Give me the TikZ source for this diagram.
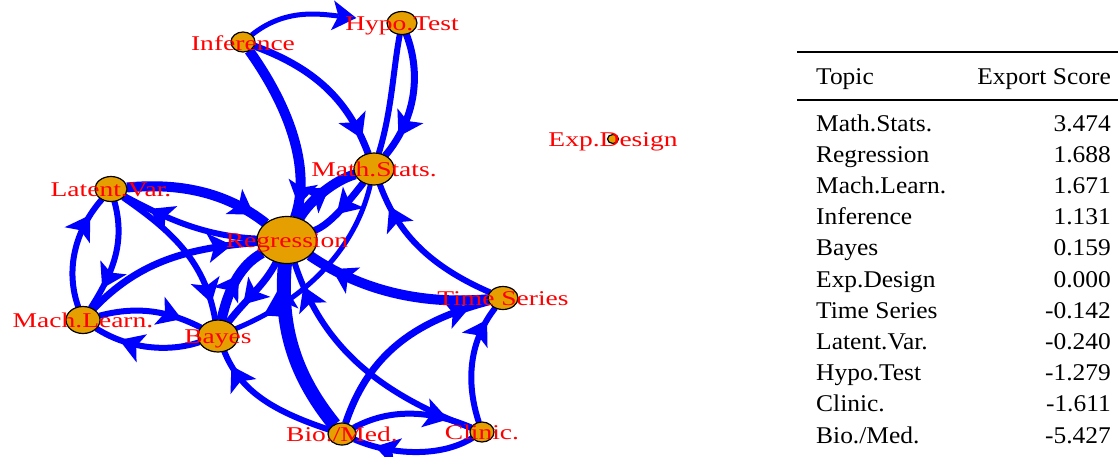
\documentclass[tikz,border=0pt]{standalone}
\usepackage{fontspec}
\setmainfont{Liberation Serif}
\usetikzlibrary{arrows.meta,decorations.markings,shapes.geometric}
\pgfdeclarelayer{bg}
\pgfsetlayers{bg,main}
\definecolor{nodeor}{HTML}{E69F00}
\definecolor{edgeblue}{HTML}{0000FF}
\definecolor{labred}{HTML}{FF0000}
\newcommand{\lbl}[1]{\scalebox{1.31}[1]{#1}}
\newcommand{\tcell}[1]{\scalebox{1.06}[1]{#1}}
\tikzset{
  igr/.tip={Stealth[length=24pt,width=30pt,inset=6pt,line width=0pt]},
  vtx/.style={ellipse, draw=black, line width=1.2pt, fill=nodeor, inner sep=0pt, outer sep=0pt},
  lab/.style={text=labred, font=\fontsize{21}{21}\selectfont, anchor=base, inner sep=0pt},
  conn/.style={draw=edgeblue, color=edgeblue, line width=#1},
  arr/.style={postaction={decorate, decoration={markings, mark=at position #1 with {\arrow{igr}}}}},
  tcl/.style={font=\fontsize{24}{24}\selectfont, inner sep=0pt, anchor=base west},
  tcr/.style={font=\fontsize{24}{24}\selectfont, inner sep=0pt, anchor=base east},
}
\begin{document}
\begin{tikzpicture}[x=1pt,y=-1pt]
\useasboundingbox (0,0) rectangle (1118,456);
% vertices
\node[vtx, minimum width=24pt, minimum height=20pt] (inf) at (243,42) {};
\node[vtx, minimum width=30pt, minimum height=23pt] (hyp) at (402,23) {};
\node[vtx, minimum width=40pt, minimum height=32pt] (mat) at (374,169) {};
\node[vtx, minimum width=11pt, minimum height=9pt] (exp) at (613,139) {};
\node[vtx, minimum width=32pt, minimum height=25pt] (lat) at (111,189) {};
\node[vtx, minimum width=60pt, minimum height=47pt] (reg) at (287,240) {};
\node[vtx, minimum width=30pt, minimum height=23pt] (tsr) at (503,298) {};
\node[vtx, minimum width=34pt, minimum height=27pt] (mlr) at (83,320) {};
\node[vtx, minimum width=40pt, minimum height=32pt] (bay) at (218,336) {};
\node[vtx, minimum width=28pt, minimum height=22pt] (bio) at (342,434) {};
\node[vtx, minimum width=24pt, minimum height=20pt] (cli) at (482,432) {};
% edges
\begin{pgfonlayer}{bg}
\draw[conn=5pt, -{igr}, shorten >=31pt] (inf) .. controls (285,8) and (320,14) .. (hyp);
\draw[conn=7pt, arr=0.9] (inf) .. controls (320,70) and (350,105) .. (mat);
\draw[conn=10pt, arr=0.93] (inf) .. controls (295,115) and (310,175) .. (reg);
\draw[conn=6pt] (hyp) .. controls (393,70) and (392,110) .. (mat);
\draw[conn=7pt, arr=0.82] (hyp) .. controls (422,75) and (415,120) .. (mat);
\draw[conn=10pt, arr=0.9] (lat) .. controls (185,182) and (230,195) .. (reg);
\draw[conn=6pt, arr=0.8] (reg) .. controls (200,236) and (160,215) .. (lat);
\draw[conn=6pt, arr=0.89] (lat) .. controls (170,230) and (205,260) .. (bay);
\draw[conn=6pt, arr=0.83] (mlr) .. controls (65,270) and (75,230) .. (lat);
\draw[conn=6pt, arr=0.8] (lat) .. controls (125,240) and (115,270) .. (mlr);
\draw[conn=7pt, arr=0.86] (mlr) .. controls (140,260) and (190,248) .. (reg);
\draw[conn=6pt, arr=0.8] (mlr) .. controls (140,305) and (170,312) .. (bay);
\draw[conn=6pt, arr=0.76] (bay) .. controls (170,352) and (130,350) .. (mlr);
\draw[conn=10pt, arr=0.6] (bay) .. controls (228,290) and (240,265) .. (reg);
\draw[conn=7pt, arr=0.7] (reg) .. controls (265,285) and (245,300) .. (bay);
\draw[conn=5pt, arr=0.85] (mat) .. controls (355,250) and (305,300) .. (bay);
\draw[conn=10pt, arr=0.6] (reg) .. controls (310,200) and (335,180) .. (mat);
\draw[conn=7pt, arr=0.6] (mat) .. controls (350,200) and (330,225) .. (reg);
\draw[conn=6pt, arr=0.85] (tsr) .. controls (420,262) and (395,225) .. (mat);
\draw[conn=10pt, arr=0.86] (tsr) .. controls (420,305) and (360,290) .. (reg);
\draw[conn=14pt, arr=0.88] (bio) .. controls (290,370) and (280,320) .. (reg);
\draw[conn=6pt, arr=0.9] (cli) .. controls (370,390) and (320,340) .. (reg);
\draw[conn=6pt, arr=0.88] (bio) .. controls (270,410) and (240,390) .. (bay);
\draw[conn=7pt, arr=0.9] (bio) .. controls (370,350) and (420,320) .. (tsr);
\draw[conn=6pt, arr=0.88] (cli) .. controls (465,380) and (470,340) .. (tsr);
\draw[conn=6pt, arr=0.8] (bio) .. controls (390,408) and (430,410) .. (cli);
\draw[conn=6pt, arr=0.82] (cli) .. controls (440,458) and (390,455) .. (bio);
\end{pgfonlayer}
% labels
\node[lab] (inf-l) at (243,50) {\lbl{Inference}};
\node[lab] (hyp-l) at (402,30) {\lbl{Hypo.Test}};
\node[lab] (mat-l) at (374,176) {\lbl{Math.Stats.}};
\node[lab] (exp-l) at (613,146) {\lbl{Exp.Design}};
\node[lab] (lat-l) at (111,196) {\lbl{Latent.Var.}};
\node[lab] (reg-l) at (287,247) {\lbl{Regression}};
\node[lab] (tsr-l) at (503,305) {\lbl{Time Series}};
\node[lab] (mlr-l) at (83,327) {\lbl{Mach.Learn.}};
\node[lab] (bay-l) at (218,343) {\lbl{Bayes}};
\node[lab] (bio-l) at (342,441) {\lbl{Bio./Med.}};
\node[lab] (cli-l) at (482,439) {\lbl{Clinic.}};
% table
\coordinate (r1a) at (797,52); \coordinate (r1b) at (1118,52);
\coordinate (r2a) at (797,100); \coordinate (r2b) at (1118,100);
\draw[line width=2pt] (r1a) -- (r1b);
\draw[line width=1.2pt] (r2a) -- (r2b);
\node[tcl] (h1) at (816,84) {\tcell{Topic}};
\node[tcr] (h2) at (1111,84) {\tcell{Export Score}};
\foreach \t/\v [count=\i from 0] in {Math.Stats./3.474, Regression/1.688, Mach.Learn./1.671, Inference/1.131, Bayes/0.159, Exp.Design/0.000, Time Series/-0.142, Latent.Var./-0.240, Hypo.Test/-1.279, Clinic./-1.611, Bio.\slash Med./-5.427}{
  \node[tcl] (ta\i) at (816,131+31.2*\i) {\tcell{\t}};
  \node[tcr] (tb\i) at (1111,131+31.2*\i) {\tcell{\v}};
}
\end{tikzpicture}
\end{document}
